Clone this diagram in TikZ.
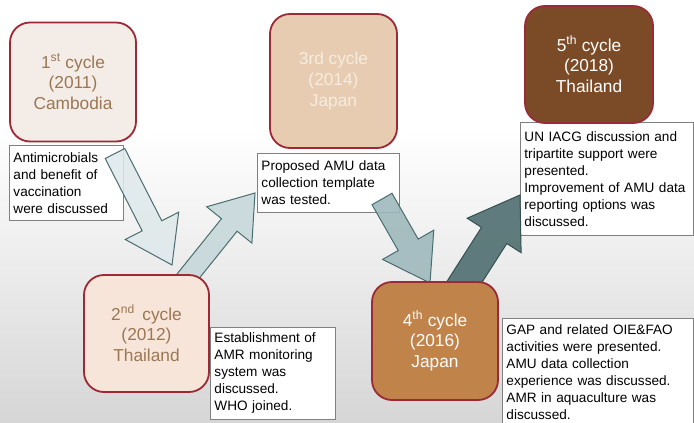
\documentclass[tikz,border=0pt]{standalone}
\usepackage{fontspec}
\setmainfont{Liberation Sans}
\usetikzlibrary{calc}

\definecolor{bgbottom}{RGB}{214,214,214}
\definecolor{frame}{RGB}{156,42,54}
\definecolor{boxgray}{RGB}{128,128,128}
\definecolor{tanA}{RGB}{244,236,230}
\definecolor{tanB}{RGB}{247,229,217}
\definecolor{tanC}{RGB}{231,204,177}
\definecolor{tanD}{RGB}{192,131,74}
\definecolor{tanE}{RGB}{123,75,40}
\definecolor{txtbrown}{RGB}{155,119,83}
\definecolor{txtpale}{RGB}{246,236,226}
\definecolor{arrowA}{RGB}{223,233,235}
\definecolor{arrowB}{RGB}{198,215,217}
\definecolor{arrowC}{RGB}{157,184,187}
\definecolor{arrowD}{RGB}{75,107,109}
\definecolor{edgeA}{RGB}{74,109,112}
\definecolor{edgeD}{RGB}{53,80,79}

% block arrow: name, tail, tip, shaft half width, head half width, head length, style
\newcommand{\blockarrow}[7]{%
  \coordinate (#1-base) at ($(#3)!#6!(#2)$);
  \draw[#7] ($(#2)!#4!90:(#3)$) -- ($(#1-base)!#4!90:(#3)$)
    -- ($(#1-base)!#5!90:(#3)$) -- (#3)
    -- ($(#1-base)!#5!-90:(#3)$) -- ($(#1-base)!#4!-90:(#3)$)
    -- ($(#2)!#4!-90:(#3)$) -- cycle;
}

\tikzset{
  cycle/.style={draw=frame, line width=1.8pt, rounded corners=20pt,
    align=center, inner sep=0pt,
    font=\fontsize{17.3}{20.7}\selectfont},
  tbox/.style={draw=boxgray, fill=white, line width=0.9pt, anchor=north west,
    inner xsep=4pt, inner ysep=3pt, align=left,
    font=\fontsize{13.6}{17}\selectfont},
  barrow/.style={draw=edgeA, line width=1pt, fill opacity=0.88, line join=miter},
}

\begin{document}
\begin{tikzpicture}[x=1pt, y=-1pt]
  \useasboundingbox (0,0) rectangle (694,423);

  % background: white fading to light gray towards the bottom
  \fill[white] (0,0) rectangle (694,131);
  \shade[top color=white, bottom color=bgbottom] (0,130) rectangle (694,423);

  % description boxes
  \node[tbox, minimum width=114pt, minimum height=75pt, text width=106pt] (d1) at (9,145)
    {Antimicrobials\\and benefit of\\vaccination\\were discussed};
  \node[tbox, minimum width=125pt, minimum height=92pt, text width=117pt] (d2) at (210,327)
    {Establishment of\\AMR monitoring\\system was\\discussed.\\WHO joined.};
  \node[tbox, minimum width=142pt, minimum height=59pt, text width=134pt] (d3) at (257,153)
    {Proposed AMU data\\collection template\\was tested.};
  \node[tbox, minimum width=191pt, minimum height=108pt, text width=183pt] (d4) at (502,318)
    {GAP and related OIE\&FAO\\activities were presented.\\AMU data collection\\experience was discussed.\\AMR in aquaculture was\\discussed.};
  \node[tbox, minimum width=173pt, minimum height=113pt, text width=165pt] (d5) at (520,122)
    {UN IACG discussion and\\tripartite support were\\presented.\\Improvement of AMU data\\reporting options was\\discussed.};

  % arrow end points
  \coordinate (a1-tail) at (115,153.5);
  \coordinate (a1-tip)  at (172,265);
  \coordinate (a2-tail) at (181,285);
  \coordinate (a2-tip)  at (255,193);
  \coordinate (a3-tail) at (382,199);
  \coordinate (a3-tip)  at (430,283);
  \coordinate (a4-tail) at (458,292);
  \coordinate (a4-tip)  at (520,195);

  % block arrows between the cycles
  \blockarrow{a1}{a1-tail}{a1-tip}{11pt}{30pt}{44pt}{barrow, fill=arrowA}
  \blockarrow{a2}{a2-tail}{a2-tip}{10pt}{29pt}{41pt}{barrow, fill=arrowB}
  \blockarrow{a3}{a3-tail}{a3-tip}{11.5pt}{29.5pt}{44pt}{barrow, fill=arrowC}
  \blockarrow{a4}{a4-tail}{a4-tip}{15pt}{32pt}{48pt}{barrow, draw=edgeD, fill=arrowD}

  % cycle boxes
  \node[cycle, fill=tanA, text=txtbrown, minimum width=126pt, minimum height=119pt] (c1) at (73,82)
    {1\textsuperscript{st} cycle\\(2011)\\Cambodia};
  \node[cycle, fill=tanB, text=txtbrown, minimum width=125pt, minimum height=117pt] (c2) at (146.5,333.5)
    {2\textsuperscript{nd}\, cycle\\(2012)\\Thailand};
  \node[cycle, fill=tanC, text=txtpale, minimum width=127pt, minimum height=134pt] (c3) at (333.5,81)
    {3rd cycle\\(2014)\\Japan};
  \node[cycle, fill=tanD, text=white, minimum width=126pt, minimum height=118pt] (c4) at (435,341)
    {4\textsuperscript{th} cycle\\(2016)\\Japan};
  \node[cycle, fill=tanE, text=white, minimum width=128pt, minimum height=117pt] (c5) at (589,64.5)
    {5\textsuperscript{th} cycle\\(2018)\\Thailand};
\end{tikzpicture}
\end{document}
